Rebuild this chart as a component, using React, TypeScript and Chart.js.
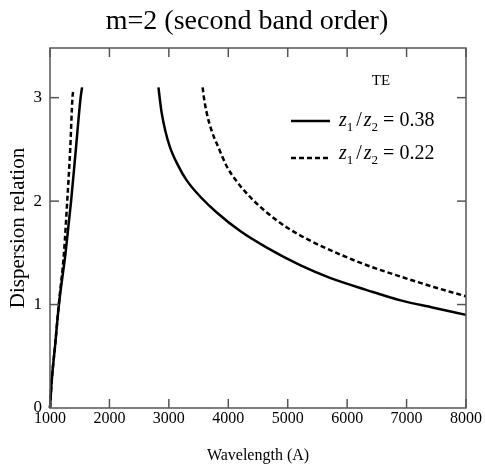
import { useEffect, useRef } from "react";
import { Chart, registerables } from "chart.js";

Chart.register(...registerables);

const titleText = "m=2 (second band order)";
const xTitle = "Wavelength (A)";
const yTitle = "Dispersion relation";
const legendTitle = "TE";
const legendValues = ["0.38", "0.22"];

const xTicks = [1000, 2000, 3000, 4000, 5000, 6000, 7000, 8000];
const yTicks = [0, 1, 2, 3];

// z1/z2 = 0.38 (solid)
const solidLeftX = [1000, 1030, 1085, 1150, 1262, 1355, 1435, 1515, 1540];
const solidLeftY = [0, 0.27, 0.6, 1.0, 1.5, 2.0, 2.5, 3.0, 3.1];
const solidRightX = [2825, 2845, 2880, 2940, 3020, 3150, 3300, 3550, 3806, 4200, 4648, 5209, 5700, 6332, 6900, 7453, 8000];
const solidRightY = [3.1, 3.0, 2.85, 2.68, 2.52, 2.35, 2.2, 2.03, 1.89, 1.71, 1.55, 1.38, 1.26, 1.14, 1.04, 0.97, 0.9];

// z1/z2 = 0.22 (dashed)
const dashLeftX = [1000, 1030, 1085, 1148, 1235, 1290, 1340, 1378, 1392];
const dashLeftY = [0, 0.27, 0.6, 1.0, 1.5, 2.0, 2.5, 3.0, 3.07];
const dashRightX = [3568, 3590, 3638, 3720, 3833, 3980, 4143, 4400, 4648, 5000, 5405, 5900, 6332, 6900, 7453, 8000];
const dashRightY = [3.1, 3.0, 2.85, 2.68, 2.52, 2.33, 2.19, 2.02, 1.89, 1.74, 1.61, 1.48, 1.38, 1.27, 1.17, 1.08];

const FONT = '"Liberation Serif", "DejaVu Serif", serif';

const pts = (xs: number[], ys: number[]) => xs.map((x, i) => ({ x, y: ys[i] }));

const mkSet = (xs: number[], ys: number[], dashed: boolean) => ({
  data: pts(xs, ys),
  showLine: true,
  borderColor: "#000",
  backgroundColor: "#000",
  borderWidth: 2.5,
  borderDash: dashed ? [5, 3] : [],
  pointRadius: 0,
  tension: 0.4,
  cubicInterpolationMode: "monotone" as const,
  clip: 4,
});

const decorPlugin = {
  id: "decor",
  afterDatasetsDraw(chart: any) {
    const { ctx, chartArea, scales } = chart;
    const { left, right, top, bottom } = chartArea;
    const x = scales.x;
    const y = scales.y;
    ctx.save();
    ctx.strokeStyle = "#555";
    ctx.lineWidth = 1.5;
    ctx.setLineDash([]);
    ctx.strokeRect(left, top, right - left, bottom - top);
    const L = 9;
    const seg = (x1: number, y1: number, x2: number, y2: number) => {
      ctx.beginPath();
      ctx.moveTo(x1, y1);
      ctx.lineTo(x2, y2);
      ctx.stroke();
    };
    xTicks.forEach((v) => {
      const px = x.getPixelForValue(v);
      seg(px, bottom, px, bottom - L);
      seg(px, top, px, top + L);
    });
    yTicks.forEach((v) => {
      if (v === 0) return;
      const py = y.getPixelForValue(v);
      seg(left, py, left + L, py);
      seg(right, py, right - L, py);
    });

    // title
    ctx.fillStyle = "#000";
    ctx.textAlign = "center";
    ctx.textBaseline = "middle";
    ctx.font = `28px ${FONT}`;
    ctx.fillText(titleText, 247, 22);

    // legend
    ctx.font = `15px ${FONT}`;
    ctx.fillText(legendTitle, left + 331, top + 33);

    const drawLabel = (sx: number, base: number, val: string) => {
      ctx.textAlign = "left";
      ctx.textBaseline = "alphabetic";
      let cx = sx;
      const part = (t: string, f: string, dy: number, gap = 0) => {
        ctx.font = f;
        ctx.fillText(t, cx, base + dy);
        cx += ctx.measureText(t).width + gap;
      };
      const main = `20px ${FONT}`;
      const ital = `italic 20px ${FONT}`;
      const sub = `13px ${FONT}`;
      part("z", ital, 0);
      part("1", sub, 5, 3);
      part("/", main, 0, 2);
      part("z", ital, 0);
      part("2", sub, 5);
      part(" = " + val, main, 0);
    };

    ctx.strokeStyle = "#000";
    ctx.lineWidth = 2.5;
    ctx.setLineDash([]);
    seg(left + 241, top + 73, left + 280, top + 73);
    drawLabel(left + 289, top + 78, legendValues[0]);
    ctx.setLineDash([5, 3]);
    seg(left + 241, top + 110, left + 280, top + 110);
    ctx.setLineDash([]);
    drawLabel(left + 289, top + 111, legendValues[1]);
    ctx.restore();
  },
};

export default function App() {
  const ref = useRef<HTMLCanvasElement>(null);
  useEffect(() => {
    if (!ref.current) return;
    const chart = new Chart(ref.current, {
      type: "scatter",
      data: {
        datasets: [
          mkSet(solidLeftX, solidLeftY, false),
          mkSet(solidRightX, solidRightY, false),
          mkSet(dashLeftX, dashLeftY, true),
          mkSet(dashRightX, dashRightY, true),
        ] as any,
      },
      options: {
        animation: false,
        responsive: false,
        events: [],
        layout: { padding: { top: 48, right: 19, left: 0, bottom: 0 } },
        plugins: {
          legend: { display: false },
          tooltip: { enabled: false },
          title: { display: false },
        },
        scales: {
          x: {
            type: "linear",
            min: 1000,
            max: 8000,
            afterBuildTicks: (s: any) => {
              s.ticks = xTicks.map((v) => ({ value: v }));
            },
            afterFit: (s: any) => {
              s.height = 64;
            },
            grid: { display: false, drawTicks: false },
            border: { display: false },
            ticks: {
              color: "#000",
              font: { family: FONT, size: 16 },
              padding: 1,
              maxRotation: 0,
              autoSkip: false,
              callback: (v: any) => String(v),
            },
            title: {
              display: true,
              text: xTitle,
              color: "#000",
              font: { family: FONT, size: 16 },
              padding: { top: 0, bottom: 7 },
            },
          },
          y: {
            type: "linear",
            min: 0,
            max: 3.48,
            afterBuildTicks: (s: any) => {
              s.ticks = yTicks.map((v) => ({ value: v }));
            },
            afterFit: (s: any) => {
              s.width = 50;
            },
            grid: { display: false, drawTicks: false },
            border: { display: false },
            ticks: {
              color: "#000",
              font: { family: FONT, size: 17 },
              padding: 8,
              callback: (v: any) => String(v),
            },
            title: {
              display: true,
              text: yTitle,
              color: "#000",
              font: { family: FONT, size: 21 },
              padding: { top: 6, bottom: 0 },
            },
          },
        },
      },
      plugins: [decorPlugin],
    });
    return () => chart.destroy();
  }, []);
  return (
    <div style={{ position: "fixed", left: 0, top: 0, width: 485, height: 472, background: "#fff" }}>
      <canvas ref={ref} width={485} height={472} style={{ display: "block" }} />
    </div>
  );
}
